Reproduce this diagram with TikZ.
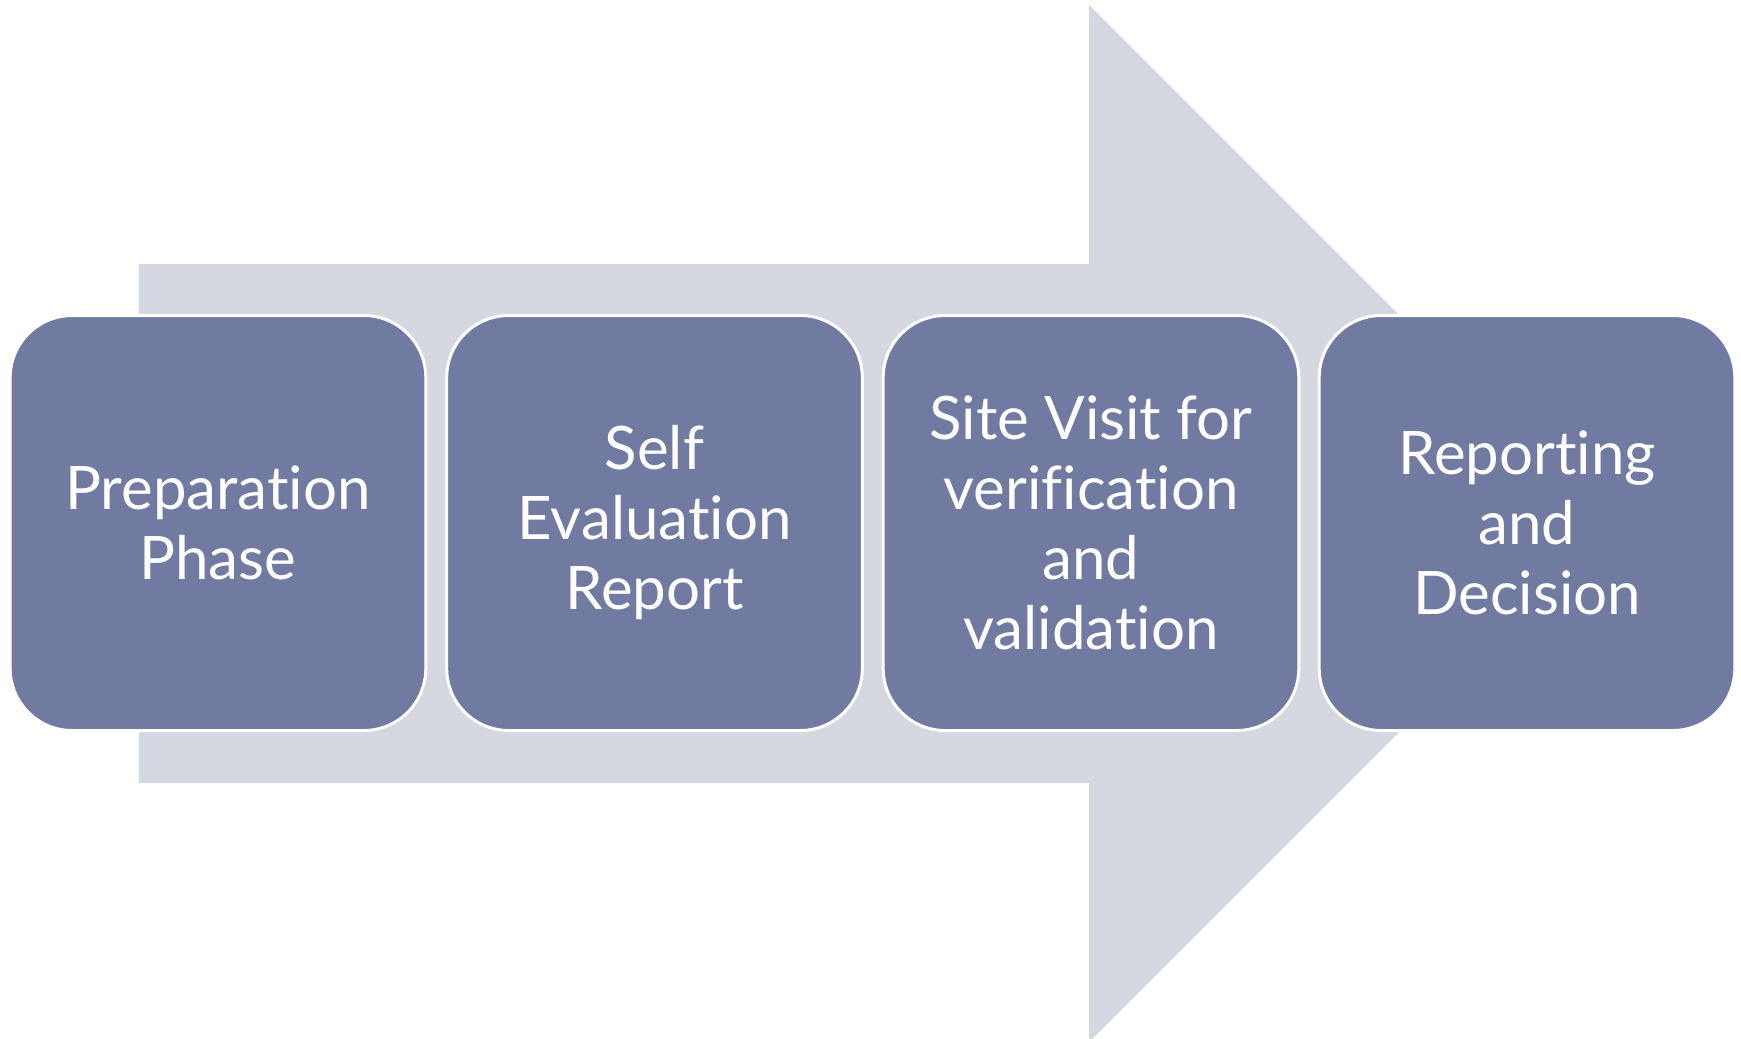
\documentclass[tikz,border=0pt]{standalone}
\usepackage{fontspec}
\setmainfont{Lato}[Ligatures=NoCommon]
\definecolor{boxblue}{HTML}{717BA1}
\definecolor{arrowgrey}{HTML}{D5D8E1}

\begin{document}
\begin{tikzpicture}[x=0.5pt,y=-0.5pt,
  phase/.style={draw=white, line width=1.5pt, fill=boxblue, rounded corners=31pt,
    minimum width=207.8pt, minimum height=207.5pt, inner sep=0pt,
    align=center, text=white, font=\fontsize{30}{35}\selectfont}]
\useasboundingbox (0,0) rectangle (1741,1039);
% big arrow behind the steps
\fill[arrowgrey] (139,264) -- (1089,264) -- (1089,5) -- (1607.5,523.5)
	-- (1089,1042) -- (1089,783) -- (139,783) -- cycle;
\node[phase] (prep) at (218,523) {Preparation\\Phase};
\node[phase] (self) at (654.5,523) {Self\\Evaluation\\Report};
\node[phase] (site) at (1091,523) {Site Visit for\\verification\\and\\validation};
\node[phase] (dec) at (1527,523) {Reporting\\and\\Decision};
\end{tikzpicture}
\end{document}
